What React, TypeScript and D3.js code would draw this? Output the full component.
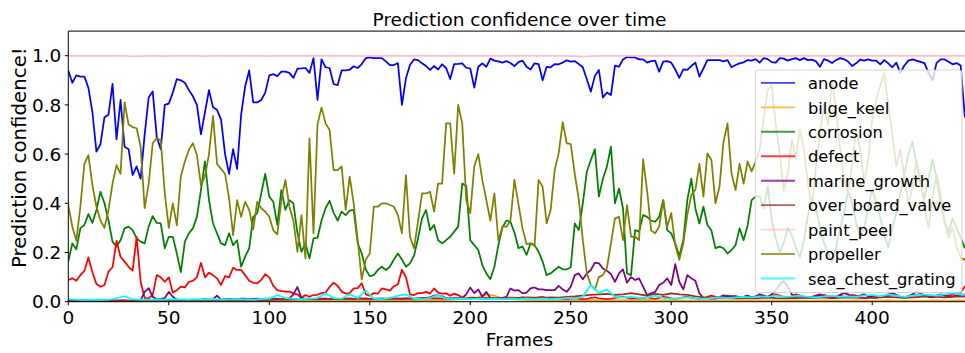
import React from 'react';
import * as d3 from 'd3';

// Frame axis runs to this limit; every series is sampled on a regular frame step.
const FRAME_LIMIT = 449;
const X_TICKS = [0, 50, 100, 150, 200, 250, 300, 350, 400];
const Y_TICKS = [0, 0.2, 0.4, 0.6, 0.8, 1.0];

const CLASS_NAMES = [
  'anode',
  'bilge_keel',
  'corrosion',
  'defect',
  'marine_growth',
  'over_board_valve',
  'paint_peel',
  'propeller',
  'sea_chest_grating',
];

// Frames between consecutive samples of each class
const CLASS_STEPS = [2, 4, 2, 2, 2, 4, 4, 2, 4];

const anode = [
  0.94, 0.89, 0.92, 0.915, 0.915, 0.87, 0.77, 0.61, 0.64, 0.75,
  0.76, 0.885, 0.66, 0.82, 0.63, 0.62, 0.515, 0.55, 0.50, 0.68,
  0.83, 0.855, 0.67, 0.62, 0.80, 0.805, 0.85, 0.905, 0.90, 0.89,
  0.86, 0.835, 0.80, 0.68, 0.77, 0.86, 0.79, 0.78, 0.74, 0.60,
  0.52, 0.62, 0.54, 0.76, 0.875, 0.94, 0.81, 0.81, 0.82, 0.85,
  0.92, 0.925, 0.917, 0.935, 0.935, 0.93,
  0.91, 0.947, 0.948, 0.95, 0.93, 0.99, 0.82, 0.985, 0.953, 0.95,
  0.885, 0.88, 0.94, 0.94, 0.943, 0.957, 0.95, 0.966, 0.99, 0.993,
  0.99, 0.99, 0.99, 0.977, 0.962, 0.962, 0.97, 0.80, 0.908, 0.962,
  0.985, 0.982, 0.969, 0.958, 0.942, 0.958, 0.944, 0.965, 0.95, 0.905,
  0.966, 0.967, 0.969, 0.951, 0.948, 0.87, 0.955, 0.969, 0.955, 0.988,
  0.98, 0.977, 0.972, 0.978, 0.97, 0.958,
  0.974, 0.98, 0.955, 0.944, 0.969, 0.966, 0.90, 0.955, 0.953, 0.966,
  0.965, 0.972, 0.981, 0.976, 0.978, 0.966, 0.953, 0.904, 0.854, 0.918,
  0.942, 0.83, 0.85, 0.84, 0.96, 0.955, 0.985, 0.995, 0.993, 0.993,
  0.985, 0.985, 0.972, 0.978, 0.98, 0.935, 0.976, 0.978, 0.972, 0.944,
  0.91, 0.944, 0.942, 0.958, 0.972, 0.915, 0.948, 0.982, 0.982, 0.982,
  0.982, 0.977, 0.982, 0.953, 0.962, 0.969,
  0.973, 0.982, 0.98, 0.986, 0.972, 0.99, 0.986, 0.974, 0.972, 0.99,
  0.988, 0.98, 0.986, 0.99, 0.982, 0.99, 0.982, 0.984, 0.977, 0.955,
  0.986, 0.98, 0.97, 0.982, 0.99, 0.986, 0.976, 0.958, 0.969, 0.984,
  0.98, 0.985, 0.98, 0.98, 0.965, 0.982, 0.969, 0.953, 0.972,
  0.93, 0.96, 0.98, 0.985, 0.98, 0.975, 0.97, 0.93, 0.90, 0.97,
  0.985, 0.985, 0.975, 0.965, 0.97, 0.96, 0.76, 0.70,
];

const bilgeKeel = [
  0.002, 0.002, 0.003, 0.002, 0.002, 0.003, 0.002, 0.003, 0.002, 0.002,
  0.003, 0.002, 0.003, 0.004, 0.003, 0.003, 0.002, 0.003, 0.004, 0.003,
  0.003, 0.004, 0.003, 0.003, 0.004, 0.003, 0.004, 0.005, 0.004, 0.005,
  0.004, 0.005, 0.006, 0.005, 0.004, 0.006, 0.005, 0.004, 0.005, 0.006,
  0.005, 0.006, 0.005, 0.004, 0.005, 0.006, 0.007, 0.006, 0.008, 0.01,
  0.012, 0.018, 0.03, 0.025, 0.012, 0.01, 0.008, 0.007, 0.006, 0.005,
  0.005, 0.006, 0.005, 0.006, 0.007, 0.006, 0.005, 0.006, 0.005, 0.006,
  0.005, 0.006, 0.007, 0.006, 0.005, 0.006, 0.005, 0.004, 0.005, 0.006,
  0.005, 0.004, 0.005, 0.006, 0.005, 0.004, 0.005, 0.004, 0.005, 0.004,
  0.005, 0.004, 0.003, 0.004, 0.005, 0.004, 0.003, 0.004, 0.005, 0.004,
  0.003, 0.004, 0.005, 0.004, 0.003, 0.004, 0.003, 0.004, 0.005, 0.004,
  0.004, 0.005, 0.004,
];

const corrosion = [
  0.163, 0.237, 0.213, 0.298, 0.312, 0.356, 0.32, 0.373, 0.447, 0.40,
  0.33, 0.244, 0.224, 0.25, 0.298, 0.305, 0.291, 0.257, 0.244, 0.237,
  0.305, 0.348, 0.32, 0.318, 0.217, 0.264, 0.264, 0.196, 0.12, 0.244,
  0.278, 0.298, 0.345, 0.454, 0.57, 0.413, 0.318, 0.278, 0.237, 0.23,
  0.278, 0.23, 0.25, 0.142, 0.183, 0.217, 0.345, 0.36, 0.44, 0.52,
  0.427, 0.406, 0.312, 0.454, 0.373, 0.413,
  0.40, 0.28, 0.203, 0.237, 0.176, 0.257, 0.26, 0.33, 0.38, 0.41,
  0.362, 0.33, 0.366, 0.352, 0.37, 0.373, 0.237, 0.196, 0.131, 0.104,
  0.108, 0.129, 0.142, 0.129, 0.142, 0.172, 0.196, 0.172, 0.142, 0.156,
  0.186, 0.257, 0.339, 0.373, 0.291, 0.312, 0.25, 0.237, 0.25, 0.264,
  0.285, 0.305, 0.48, 0.47, 0.25, 0.23, 0.21, 0.149, 0.115, 0.091,
  0.142, 0.23, 0.302, 0.33, 0.325, 0.28,
  0.217, 0.224, 0.19, 0.237, 0.23, 0.203, 0.163, 0.108, 0.115, 0.129,
  0.142, 0.131, 0.131, 0.14, 0.318, 0.291, 0.40, 0.528, 0.576, 0.62,
  0.427, 0.50, 0.55, 0.63, 0.40, 0.46, 0.38, 0.115, 0.108, 0.291,
  0.285, 0.352, 0.345, 0.33, 0.325, 0.345, 0.413, 0.291, 0.278, 0.237,
  0.186, 0.25, 0.413, 0.50, 0.38, 0.318, 0.386, 0.312, 0.289, 0.217,
  0.224, 0.217, 0.196, 0.21, 0.23, 0.298,
  0.25, 0.31, 0.413, 0.427,
  0.43, 0.38, 0.47, 0.33, 0.26, 0.2, 0.24, 0.3, 0.27, 0.22,
  0.18, 0.25, 0.35, 0.42, 0.38, 0.3, 0.24, 0.2, 0.16, 0.22,
  0.3, 0.36, 0.45, 0.4, 0.32, 0.26, 0.3, 0.38, 0.46, 0.4,
  0.34, 0.27, 0.22, 0.3, 0.36, 0.44, 0.52, 0.6, 0.65, 0.56,
  0.48, 0.42, 0.5, 0.58, 0.5, 0.4, 0.33, 0.28, 0.34, 0.3,
  0.26, 0.22, 0.25,
];

const defect = [
  0.088, 0.095, 0.085, 0.108, 0.125, 0.18, 0.12, 0.072, 0.061, 0.068,
  0.122, 0.14, 0.247, 0.183, 0.163, 0.142, 0.126, 0.264, 0.081, 0.015,
  0.014, 0.027, 0.108, 0.099, 0.081, 0.099, 0.037, 0.047, 0.061, 0.058,
  0.081, 0.085, 0.10, 0.158, 0.099, 0.118, 0.108, 0.095, 0.068, 0.104,
  0.099, 0.138, 0.129, 0.129, 0.108, 0.085, 0.077, 0.075, 0.089, 0.112,
  0.099, 0.064, 0.047, 0.043, 0.041, 0.041,
  0.034, 0.03, 0.015, 0.027, 0.02, 0.027, 0.028, 0.035, 0.037, 0.06,
  0.077, 0.065, 0.041, 0.033, 0.035, 0.054, 0.055, 0.075, 0.03, 0.024,
  0.035, 0.033, 0.054, 0.05, 0.045, 0.063, 0.07, 0.13, 0.1, 0.03,
  0.027, 0.035, 0.035, 0.04, 0.033, 0.054, 0.037, 0.033, 0.034, 0.024,
  0.033, 0.027, 0.017, 0.01, 0.017, 0.017, 0.013, 0.012, 0.012, 0.012,
  0.012, 0.012, 0.012, 0.012, 0.012, 0.012,
  0.015, 0.018, 0.014, 0.012, 0.015, 0.018, 0.02, 0.015, 0.012, 0.014,
  0.016, 0.012, 0.01, 0.012, 0.014, 0.012, 0.01, 0.012, 0.015, 0.018,
  0.014, 0.012, 0.01, 0.012, 0.015, 0.018, 0.02, 0.016, 0.012, 0.014,
  0.012, 0.015, 0.018, 0.014, 0.012, 0.015, 0.02, 0.018, 0.014, 0.012,
  0.015, 0.018, 0.02, 0.016, 0.014, 0.012, 0.015, 0.02, 0.025, 0.02,
  0.018, 0.022, 0.025, 0.02, 0.018, 0.02,
  0.02, 0.022, 0.018, 0.02,
  0.025, 0.02, 0.018, 0.022, 0.03, 0.025, 0.02, 0.018, 0.022, 0.03,
  0.025, 0.02, 0.018, 0.015, 0.02, 0.025, 0.028, 0.022, 0.018, 0.02,
  0.025, 0.02, 0.022, 0.028, 0.025, 0.018, 0.015, 0.018, 0.022, 0.02,
  0.018, 0.02, 0.025, 0.03, 0.025, 0.02, 0.018, 0.022, 0.025, 0.028,
  0.03, 0.025, 0.02, 0.022, 0.025, 0.03, 0.028, 0.025, 0.03, 0.035,
  0.04, 0.06, 0.085,
];

const marineGrowth = [
  0.004, 0.005, 0.004, 0.004, 0.005, 0.004, 0.004, 0.005, 0.004, 0.005,
  0.004, 0.005, 0.004, 0.005, 0.005, 0.004, 0.005, 0.006, 0.006,
  0.04, 0.055, 0.02, 0.01, 0.012, 0.015, 0.04, 0.02, 0.008, 0.007,
  0.006, 0.007, 0.008, 0.007, 0.008, 0.01, 0.008, 0.01, 0.025, 0.008,
  0.01, 0.012, 0.01, 0.011, 0.013, 0.012, 0.01, 0.011, 0.012, 0.01,
  0.012, 0.013, 0.011, 0.012, 0.01, 0.012, 0.013,
  0.03, 0.06, 0.015, 0.012, 0.013, 0.011, 0.012, 0.013, 0.012, 0.011,
  0.012, 0.01, 0.012, 0.013, 0.012, 0.011, 0.015, 0.013, 0.012, 0.011,
  0.012, 0.013, 0.012, 0.011, 0.012, 0.013, 0.012, 0.011, 0.012, 0.013,
  0.012, 0.014, 0.015, 0.016, 0.018, 0.025, 0.027, 0.022, 0.015, 0.013,
  0.012, 0.014, 0.015, 0.03, 0.058, 0.035, 0.05, 0.02, 0.04, 0.015,
  0.014, 0.015, 0.016, 0.02, 0.054, 0.045,
  0.047, 0.034, 0.037, 0.054, 0.058, 0.05, 0.05, 0.047, 0.047, 0.047,
  0.064, 0.05, 0.04, 0.061, 0.108, 0.115, 0.091, 0.115, 0.129, 0.159,
  0.156, 0.135, 0.126, 0.112, 0.081, 0.115, 0.131, 0.077, 0.10, 0.088,
  0.095, 0.061, 0.027, 0.034, 0.04, 0.068, 0.077, 0.095, 0.068, 0.153,
  0.081, 0.05, 0.108, 0.095, 0.085, 0.034, 0.016, 0.014, 0.012, 0.012,
  0.018, 0.026, 0.02, 0.023, 0.023, 0.018,
  0.02, 0.025, 0.018, 0.022, 0.03, 0.025, 0.02, 0.03, 0.045, 0.07,
  0.085, 0.06, 0.03, 0.02, 0.025, 0.018, 0.015, 0.02, 0.025, 0.03,
  0.022, 0.018, 0.015, 0.02, 0.028, 0.035, 0.03, 0.02, 0.018, 0.025,
  0.03, 0.022, 0.018, 0.015, 0.02, 0.025, 0.03, 0.035, 0.028, 0.02,
  0.018, 0.022, 0.03, 0.04, 0.035, 0.025, 0.02, 0.018, 0.022, 0.028,
  0.025, 0.02, 0.022, 0.025, 0.03, 0.028, 0.025,
];

const overBoardValve = [
  0.003, 0.003, 0.004, 0.003, 0.004, 0.003, 0.004, 0.004, 0.003, 0.004,
  0.004, 0.005, 0.004, 0.005, 0.004, 0.005, 0.005, 0.004, 0.005, 0.005,
  0.005, 0.006, 0.005, 0.006, 0.006, 0.007, 0.008, 0.008, 0.009, 0.01,
  0.01, 0.009, 0.01, 0.011, 0.01, 0.012, 0.011, 0.012, 0.01, 0.012,
  0.013, 0.012, 0.014, 0.012, 0.013, 0.015, 0.014, 0.013, 0.015, 0.014,
  0.015, 0.016, 0.015, 0.016, 0.015, 0.017, 0.016, 0.018, 0.017, 0.016,
  0.018, 0.017, 0.02, 0.022, 0.025, 0.028, 0.03, 0.032, 0.028, 0.03,
  0.035, 0.03, 0.025, 0.032, 0.028, 0.034, 0.03, 0.028, 0.022, 0.018,
  0.016, 0.015, 0.017, 0.015, 0.016, 0.014, 0.015, 0.017, 0.015, 0.014,
  0.016, 0.015, 0.017, 0.016, 0.018, 0.015, 0.016, 0.018, 0.017, 0.015,
  0.016, 0.018, 0.02, 0.018, 0.016, 0.018, 0.02, 0.022, 0.02, 0.018,
  0.02, 0.022, 0.02,
];

const paintPeel = [
  0.999, 0.999, 0.999, 0.999, 0.999, 0.999, 0.999, 0.999, 0.997, 0.998,
  0.999, 0.999, 0.998, 0.999, 0.999, 0.999, 0.999, 0.998, 0.999, 0.999,
  0.999, 0.999, 0.999, 0.999, 0.999, 0.998, 0.999, 0.999, 0.999, 0.999,
  0.999, 0.999, 0.999, 0.999, 0.999, 0.999, 0.998, 0.999, 0.999, 0.999,
  0.999, 0.999, 0.999, 0.999, 0.999, 0.999, 0.999, 0.999, 0.999, 0.999,
  0.999, 0.999, 0.999, 0.999, 0.999, 0.999, 0.999, 0.999, 0.999, 0.999,
  0.999, 0.999, 0.999, 0.998, 0.996, 0.998, 0.999, 0.999, 0.999, 0.999,
  0.999, 0.999, 0.999, 0.999, 0.999, 0.999, 0.999, 0.999, 0.999, 0.999,
  0.999, 0.999, 0.999, 0.999, 0.999, 0.999, 0.999, 0.999, 0.999, 0.999,
  0.999, 0.999, 0.999, 0.999, 0.999, 0.999, 0.999, 0.999, 0.999, 0.999,
  0.999, 0.999, 0.999, 0.999, 0.999, 0.999, 0.999, 0.999, 0.999, 0.999,
  0.999, 0.999, 0.999,
];

const propeller = [
  0.393, 0.305, 0.248, 0.386, 0.56, 0.596, 0.474, 0.386, 0.33, 0.30,
  0.373, 0.48, 0.555, 0.52, 0.81, 0.72, 0.71, 0.705, 0.63, 0.38,
  0.48, 0.644, 0.664, 0.657, 0.44, 0.30, 0.40, 0.31, 0.51, 0.57,
  0.617, 0.644, 0.596, 0.474, 0.51, 0.60, 0.755, 0.56, 0.54, 0.52,
  0.42, 0.27, 0.413, 0.345, 0.406, 0.373, 0.294, 0.406, 0.38, 0.366,
  0.345, 0.29, 0.274, 0.413, 0.495, 0.386,
  0.33, 0.203, 0.352, 0.176, 0.664, 0.278, 0.72, 0.79, 0.725, 0.698,
  0.535, 0.535, 0.55, 0.373, 0.508, 0.40, 0.25, 0.09, 0.17, 0.196,
  0.386, 0.386, 0.40, 0.40, 0.393, 0.386, 0.352, 0.278, 0.515, 0.264,
  0.217, 0.325, 0.44, 0.44, 0.447, 0.366, 0.48, 0.48, 0.725, 0.725,
  0.52, 0.80, 0.725, 0.413, 0.36, 0.55, 0.60, 0.495, 0.413, 0.33,
  0.44, 0.25, 0.305, 0.305, 0.33, 0.495,
  0.396, 0.298, 0.234, 0.237, 0.226, 0.495, 0.467, 0.318, 0.373, 0.535,
  0.603, 0.73, 0.644, 0.641, 0.52, 0.416, 0.25, 0.115, 0.068, 0.05,
  0.10, 0.108, 0.138, 0.237, 0.339, 0.345, 0.25, 0.393, 0.264, 0.264,
  0.25, 0.58, 0.45, 0.29, 0.278, 0.305, 0.413, 0.305, 0.36, 0.23,
  0.17, 0.237, 0.352, 0.434, 0.454, 0.56, 0.427, 0.603, 0.576, 0.40,
  0.467, 0.65, 0.725, 0.52, 0.454, 0.56,
  0.48, 0.57, 0.53, 0.57,
  0.62, 0.75, 0.86, 0.88, 0.72, 0.6, 0.45, 0.52, 0.66, 0.58,
  0.7, 0.62, 0.48, 0.38, 0.55, 0.68, 0.8, 0.72, 0.9, 0.78,
  0.62, 0.5, 0.44, 0.56, 0.7, 0.62, 0.48, 0.58, 0.74, 0.82,
  0.88, 0.93, 0.8, 0.68, 0.55, 0.62, 0.5, 0.4, 0.46, 0.58,
  0.5, 0.38, 0.3, 0.42, 0.52, 0.44, 0.32, 0.26, 0.3, 0.22,
  0.18, 0.17, 0.2,
];

const seaChestGrating = [
  0.01, 0.008, 0.007, 0.008, 0.007, 0.008, 0.015, 0.022, 0.01, 0.008,
  0.008, 0.009, 0.008, 0.01, 0.009, 0.008, 0.01, 0.009, 0.01, 0.008,
  0.009, 0.01, 0.009, 0.008, 0.01, 0.012, 0.027, 0.015, 0.012, 0.01,
  0.012, 0.015, 0.034, 0.015, 0.012, 0.03, 0.015, 0.045, 0.012, 0.01,
  0.015, 0.025, 0.03, 0.012, 0.01, 0.015, 0.028, 0.012, 0.01, 0.012,
  0.01, 0.012, 0.01, 0.012, 0.01, 0.012, 0.01, 0.012, 0.01, 0.012,
  0.01, 0.012, 0.015, 0.012, 0.02, 0.068, 0.035, 0.05, 0.02, 0.018,
  0.02, 0.015, 0.018, 0.025, 0.015, 0.012, 0.015, 0.018, 0.015, 0.012,
  0.015, 0.018, 0.015, 0.018, 0.02, 0.018, 0.022, 0.02, 0.025, 0.02,
  0.022, 0.025, 0.02, 0.018, 0.022, 0.025, 0.02, 0.022, 0.02, 0.025,
  0.028, 0.022, 0.03, 0.025, 0.02, 0.025, 0.03, 0.028, 0.025, 0.03,
  0.035, 0.03, 0.028,
];

const CLASS_VALUES = [
  anode,
  bilgeKeel,
  corrosion,
  defect,
  marineGrowth,
  overBoardValve,
  paintPeel,
  propeller,
  seaChestGrating,
];

const CLASS_COLORS = [
  '#0000ff',
  '#ffa500',
  '#008000',
  '#ff0000',
  '#800080',
  '#a52a2a',
  '#ffc0cb',
  '#808000',
  '#00ffff',
];

const WIDTH = 965;
const HEIGHT = 353;
const PLOT = { left: 68.3, right: 970.7, top: 31.1, bottom: 301.7 };
const FONT = "'DejaVu Sans', 'Liberation Sans', sans-serif";

export default function App() {
  const x = d3.scaleLinear().domain([0, FRAME_LIMIT]).range([PLOT.left, PLOT.right]);
  const y = d3.scaleLinear().domain([0, 1.1]).range([PLOT.bottom, PLOT.top]);

  const series = CLASS_NAMES.map((name, i) => ({
    name,
    color: CLASS_COLORS[i],
    points: CLASS_VALUES[i].map((v, j) => [j * CLASS_STEPS[i], v] as [number, number]),
  }));

  const line = d3
    .line<[number, number]>()
    .x((d) => x(d[0]))
    .y((d) => y(d[1]));

  const fmtY = d3.format('.1f');
  const tickLen = 3.5;
  const tickPad = 3.5;

  // legend geometry
  const legend = { left: 755.3, top: 70, right: 962, bottom: 292.5 };
  const rowY0 = 82.9;
  const rowGap = 24.45;

  return (
    <svg
      width={WIDTH}
      height={HEIGHT}
      viewBox={`0 0 ${WIDTH} ${HEIGHT}`}
      style={{ position: 'absolute', left: 0, top: 0, background: '#fff' }}
      fontFamily={FONT}
    >
      <defs>
        <clipPath id="plot-area">
          <rect
            x={PLOT.left}
            y={PLOT.top}
            width={PLOT.right - PLOT.left}
            height={PLOT.bottom - PLOT.top}
          />
        </clipPath>
      </defs>
      <rect x={0} y={0} width={WIDTH} height={HEIGHT} fill="#fff" />

      <g clipPath="url(#plot-area)">
        {series.map((s) => (
          <path
            key={s.name}
            d={line(s.points) ?? ''}
            fill="none"
            stroke={s.color}
            strokeWidth={1.75}
            strokeLinejoin="round"
          />
        ))}
      </g>

      {/* legend */}
      <g>
        <rect
          x={legend.left}
          y={legend.top}
          width={legend.right - legend.left}
          height={legend.bottom - legend.top}
          rx={3}
          ry={3}
          fill="#ffffff"
          fillOpacity={0.8}
          stroke="#cccccc"
          strokeOpacity={0.8}
          strokeWidth={1}
        />
        {series.map((s, i) => {
          const ly = rowY0 + i * rowGap;
          return (
            <g key={s.name}>
              <line
                x1={761}
                x2={795}
                y1={ly}
                y2={ly}
                stroke={s.color}
                strokeWidth={1.9}
                strokeOpacity={0.75}
              />
              <text x={808} y={ly + 6.2} fontSize={16.3} fill="#000">
                {s.name}
              </text>
            </g>
          );
        })}
      </g>

      {/* spines */}
      <g fill="none" stroke="#000" strokeWidth={1}>
        <line x1={PLOT.left} x2={PLOT.left} y1={PLOT.top} y2={PLOT.bottom} />
        <line x1={PLOT.left} x2={PLOT.right} y1={PLOT.bottom} y2={PLOT.bottom} />
        <line x1={PLOT.left} x2={PLOT.right} y1={PLOT.top} y2={PLOT.top} />
        <line x1={PLOT.right} x2={PLOT.right} y1={PLOT.top} y2={PLOT.bottom} />
      </g>

      {/* x axis */}
      <g>
        {X_TICKS.map((t) => (
          <g key={t}>
            <line
              x1={x(t)}
              x2={x(t)}
              y1={PLOT.bottom}
              y2={PLOT.bottom + tickLen}
              stroke="#000"
              strokeWidth={1}
            />
            <text
              x={x(t)}
              y={PLOT.bottom + tickLen + tickPad + 15}
              textAnchor="middle"
              fontSize={18.5}
              fill="#000"
            >
              {t}
            </text>
          </g>
        ))}
      </g>

      {/* y axis */}
      <g>
        {Y_TICKS.map((t) => (
          <g key={t}>
            <line
              x1={PLOT.left - tickLen}
              x2={PLOT.left}
              y1={y(t)}
              y2={y(t)}
              stroke="#000"
              strokeWidth={1}
            />
            <text
              x={PLOT.left - tickLen - tickPad}
              y={y(t)}
              dy="0.36em"
              textAnchor="end"
              fontSize={18.5}
              fill="#000"
            >
              {fmtY(t)}
            </text>
          </g>
        ))}
      </g>

      <text x={519.5} y={25.5} textAnchor="middle" fontSize={18.5} fill="#000">
        Prediction confidence over time
      </text>
      <text x={519.5} y={346} textAnchor="middle" fontSize={18.5} fill="#000">
        Frames
      </text>
      <text
        transform="translate(26, 268) rotate(-90)"
        textAnchor="start"
        fontSize={19.8}
        fill="#000"
      >
        Prediction confidence!
      </text>
    </svg>
  );
}
